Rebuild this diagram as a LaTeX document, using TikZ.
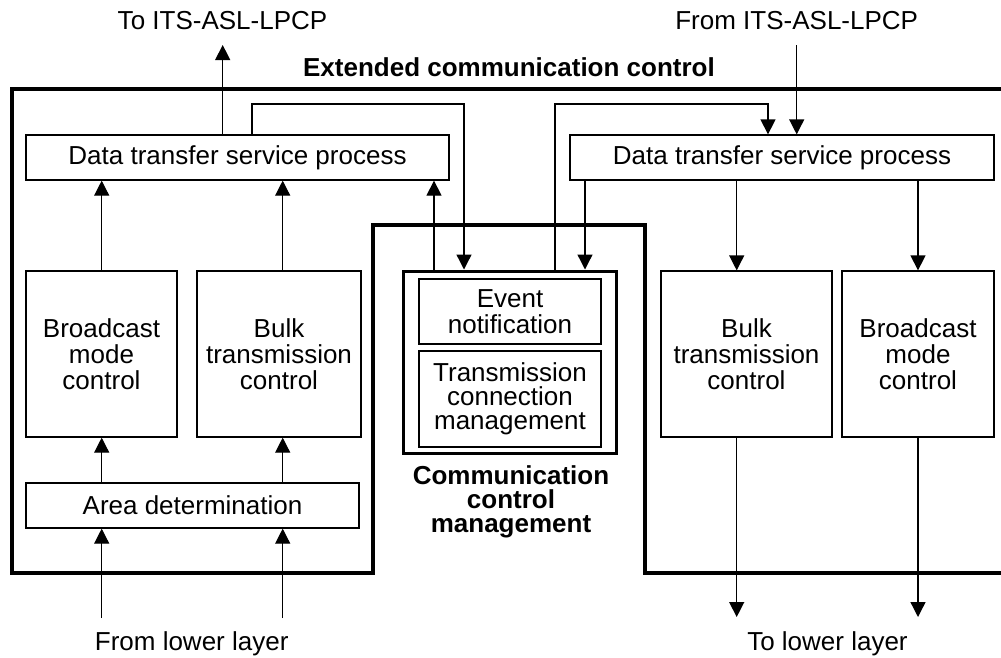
\documentclass[tikz,border=0pt]{standalone}
\usepackage{fontspec}
\setmainfont{Liberation Sans}
\usetikzlibrary{arrows.meta}

\tikzset{
  blk/.style={draw, line width=1.3pt, inner sep=0pt, align=center},
  flow/.style={line width=1.3pt, -{Triangle[length=15pt,width=15pt]}},
  frame/.style={line width=4pt},
  lbl/.style={anchor=base, inner sep=0pt},
}

\begin{document}
\begin{tikzpicture}[x=1pt,y=-1pt,font=\fontsize{26}{26}\selectfont]
    \useasboundingbox (0,0) rectangle (1001,657);
    % column positions of the connectors
    \coordinate (upL) at (222.7,45);
    \coordinate (inR) at (796.7,45);
    \coordinate (inL1) at (101.7,618);
    \coordinate (inL2) at (282.7,618);
    \coordinate (outR1) at (736.7,617);
    \coordinate (outR2) at (918,617);
    \coordinate (lpL) at (252,104);
    \coordinate (lpM) at (464,104);
    \coordinate (rpM) at (555,104);
    \coordinate (rpR) at (768,104);
    \coordinate (ccmup) at (434,0);
    \coordinate (ccmin) at (585,0);

    % extended communication control frame
    \draw[frame] (1012,89) -- (12,89) -- (12,573) -- (373,573) -- (373,225)
        -- (645,225) -- (645,573) -- (1012,573);
    \node[lbl, font=\bfseries\fontsize{26}{26}\selectfont] (ecc) at (509,76) {Extended communication control};

    \node[lbl] (tolbl) at (222.5,29) {To ITS-ASL-LPCP};
    \node[lbl] (fromlbl) at (796.7,29) {From ITS-ASL-LPCP};
    \node[lbl] (fromlow) at (191.7,650) {From lower layer};
    \node[lbl] (tolow) at (827.5,650) {To lower layer};

    % left side
    \node[blk, minimum width=423pt, minimum height=45pt] (dtspL) at (237.5,157.5) {Data transfer service process};
    \node[blk, minimum width=151pt, minimum height=166pt] (bcL) at (101.5,354) {Broadcast\\mode\\control};
    \node[blk, minimum width=164pt, minimum height=166pt] (bulkL) at (279,354) {Bulk\\transmission\\control};
    \node[blk, minimum width=333pt, minimum height=45pt] (area) at (192.5,505.5) {Area determination};

    % right side
    \node[blk, minimum width=424pt, minimum height=45pt] (dtspR) at (782,157.5) {Data transfer service process};
    \node[blk, minimum width=171pt, minimum height=166pt] (bulkR) at (746.5,354) {Bulk\\transmission\\control};
    \node[blk, minimum width=152pt, minimum height=166pt] (bcR) at (918,354) {Broadcast\\mode\\control};

    % communication control management
    \node[draw, line width=3pt, minimum width=213pt, minimum height=182pt] (ccm) at (509.5,362) {};
    \node[blk, minimum width=182pt, minimum height=65pt] (event) at (510,311.5) {Event\\notification};
    \node[blk, minimum width=182pt, minimum height=96pt, font=\fontsize{26}{24}\selectfont] (tcm) at (510,399) {Transmission\\connection\\management};
    \node[anchor=north, inner sep=0pt, align=center, font=\bfseries\fontsize{26}{24}\selectfont] (ccmlbl) at (511,465) {Communication\\control\\management};

    % connectors
    \draw[flow] (upL |- dtspL.north) -- (upL);
    \draw[flow] (inR) -- (inR |- dtspR.north);
    \draw[flow] (inL1) -- (inL1 |- area.south);
    \draw[flow] (inL2) -- (inL2 |- area.south);
    \draw[flow] (inL1 |- area.north) -- (inL1 |- bcL.south);
    \draw[flow] (inL2 |- area.north) -- (inL2 |- bulkL.south);
    \draw[flow] (inL1 |- bcL.north) -- (inL1 |- dtspL.south);
    \draw[flow] (inL2 |- bulkL.north) -- (inL2 |- dtspL.south);
    \draw[flow] (ccmup |- ccm.north) -- (ccmup |- dtspL.south);
    \draw[flow] (lpL |- dtspL.north) -- (lpL) -- (lpM) -- (lpM |- ccm.north);
    \draw[flow] (rpM |- ccm.north) -- (rpM) -- (rpR) -- (rpR |- dtspR.north);
    \draw[flow] (ccmin |- dtspR.south) -- (ccmin |- ccm.north);
    \draw[flow] (outR1 |- dtspR.south) -- (outR1 |- bulkR.north);
    \draw[flow] (outR2 |- dtspR.south) -- (outR2 |- bcR.north);
    \draw[flow] (outR1 |- bulkR.south) -- (outR1);
    \draw[flow] (outR2 |- bcR.south) -- (outR2);
\end{tikzpicture}
\end{document}
